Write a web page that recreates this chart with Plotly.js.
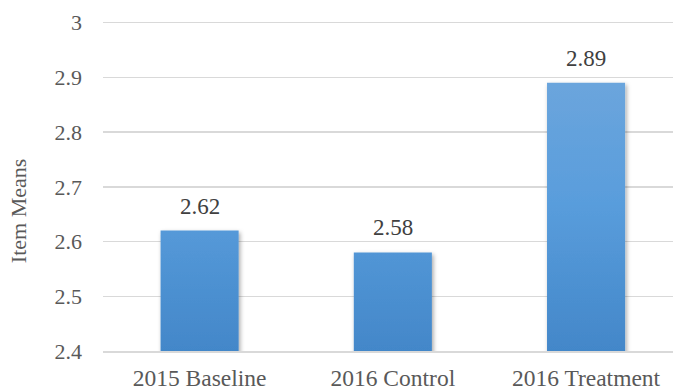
<!DOCTYPE html>
<html>
<head>
<meta charset="utf-8">
<script src="https://cdn.plot.ly/plotly-3.0.1.min.js"></script>
<style>
  html, body { margin: 0; padding: 0; background: #fff; }
  #chart { width: 673px; height: 390px; }
</style>
</head>
<body>
<div id="chart"></div>
<script>
// Item means by survey group
const categories = ['2015 Baseline', '2016 Control', '2016 Treatment'];
const itemMeans = [2.62, 2.58, 2.89];
const yTickValues = [2.4, 2.5, 2.6, 2.7, 2.8, 2.9, 3];
const yTickLabels = ['2.4', '2.5', '2.6', '2.7', '2.8', '2.9', '3'];
const yAxisTitle = 'Item Means';

const serif = '"Liberation Serif", "Times New Roman", Times, serif';
const textGrey = '#595959';

const trace = {
  type: 'bar',
  x: categories,
  y: itemMeans,
  marker: { color: '#5b9bd5', line: { width: 0 } },
  hoverinfo: 'none'
};

// Value labels above each bar
const labels = categories.map((c, i) => ({
  x: c,
  y: itemMeans[i],
  xref: 'x',
  yref: 'y',
  text: itemMeans[i].toFixed(2),
  showarrow: false,
  yanchor: 'bottom',
  yshift: 10,
  font: { family: serif, size: 23, color: '#404040' }
}));

// Rotated axis caption, sitting a little below the plot's middle
labels.push({
  xref: 'paper',
  yref: 'paper',
  x: -0.149,
  y: 0.424,
  xanchor: 'center',
  yanchor: 'middle',
  textangle: -90,
  text: yAxisTitle,
  showarrow: false,
  font: { family: serif, size: 22, color: textGrey }
});

const layout = {
  width: 673,
  height: 390,
  margin: { l: 103, r: 0, t: 21, b: 39 },
  paper_bgcolor: '#ffffff',
  plot_bgcolor: '#ffffff',
  showlegend: false,
  bargap: 0.596,
  font: { family: serif, color: textGrey },
  xaxis: {
    type: 'category',
    range: [-0.5, 2.45],
    showgrid: false,
    showline: true,
    linecolor: '#d9d9d9',
    linewidth: 1.5,
    ticks: '',
    ticklabelstandoff: 5,
    tickfont: { family: serif, size: 23.5, color: textGrey },
    fixedrange: true
  },
  yaxis: {
    range: [2.4, 3.003],
    tickvals: yTickValues,
    ticktext: yTickLabels,
    showgrid: true,
    gridcolor: '#d9d9d9',
    gridwidth: 1.5,
    zeroline: false,
    showline: false,
    ticks: '',
    ticklabelstandoff: 20,
    tickfont: { family: serif, size: 22, color: textGrey },
    automargin: false,
    fixedrange: true
  },
  annotations: labels
};

Plotly.newPlot('chart', [trace], layout, { staticPlot: true, displayModeBar: false }).then(gd => {
  // Vertical gradient and soft shadow on the bars
  const svgNS = 'http://www.w3.org/2000/svg';
  const svg = gd.querySelector('svg.main-svg');
  let defs = svg.querySelector('defs');
  if (!defs) { defs = document.createElementNS(svgNS, 'defs'); svg.insertBefore(defs, svg.firstChild); }

  const grad = document.createElementNS(svgNS, 'linearGradient');
  grad.setAttribute('id', 'barGrad');
  grad.setAttribute('gradientUnits', 'userSpaceOnUse');
  grad.setAttribute('x1', '0'); grad.setAttribute('x2', '0');
  // gradient spans the visible plot height so every bar shades the same way
  const ya = gd._fullLayout.yaxis;
  grad.setAttribute('y1', String(ya.l2p(3.0)));
  grad.setAttribute('y2', String(ya.l2p(2.4)));
  [['0%', '#74a9dd'], ['55%', '#599ddc'], ['100%', '#4387c9']].forEach(([o, c]) => {
    const s = document.createElementNS(svgNS, 'stop');
    s.setAttribute('offset', o); s.setAttribute('stop-color', c);
    grad.appendChild(s);
  });
  defs.appendChild(grad);

  const filt = document.createElementNS(svgNS, 'filter');
  filt.setAttribute('id', 'barShadow');
  filt.setAttribute('x', '-20%'); filt.setAttribute('y', '-10%');
  filt.setAttribute('width', '140%'); filt.setAttribute('height', '120%');
  const ds = document.createElementNS(svgNS, 'feDropShadow');
  ds.setAttribute('dx', '1.5'); ds.setAttribute('dy', '2');
  ds.setAttribute('stdDeviation', '2');
  ds.setAttribute('flood-color', '#000'); ds.setAttribute('flood-opacity', '0.35');
  filt.appendChild(ds);
  defs.appendChild(filt);

  gd.querySelectorAll('.barlayer .point path').forEach(p => {
    p.style.fill = 'url(#barGrad)';
    p.setAttribute('filter', 'url(#barShadow)');
  });
});
</script>
</body>
</html>
